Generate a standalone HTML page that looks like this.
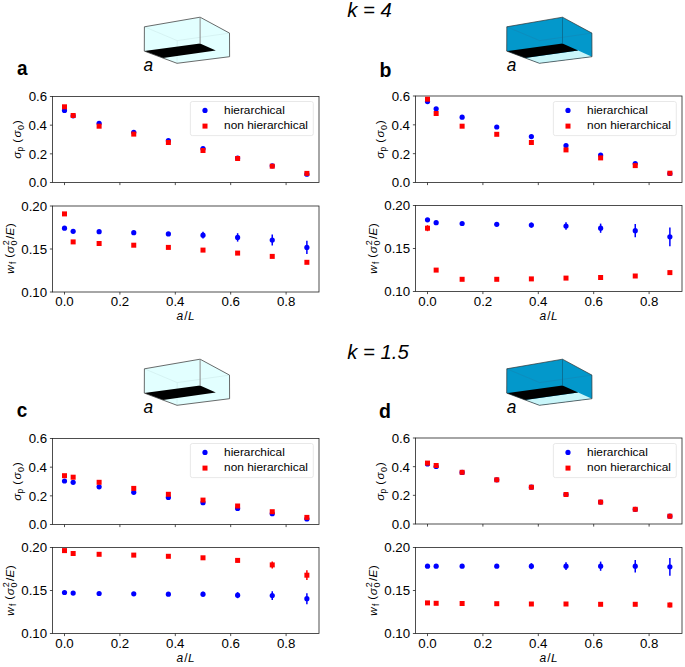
<!DOCTYPE html>
<html><head><meta charset="utf-8"><style>
html,body{margin:0;padding:0;background:#fff;}
svg{display:block;font-family:"Liberation Sans", sans-serif;}
text{font-kerning:none;}
</style></head><body>
<svg width="685" height="667" viewBox="0 0 685 667">
<rect width="685" height="667" fill="#fff"/>
<polygon points="144.40,26.80 200.10,17.20 229.50,33.10 229.60,56.70 177.00,63.30 144.30,51.10" fill="#e2ffff"/>
<polyline points="144.40,26.80 177.20,40.60 229.50,33.10" fill="none" stroke="#cdeaea" stroke-width="0.6"/>
<line x1="177.2" y1="40.6" x2="177.0" y2="63.3" stroke="#cdeaea" stroke-width="0.6"/>
<polygon points="144.30,51.10 200.10,43.50 215.80,50.50 163.00,58.00" fill="#000"/>
<polygon points="144.40,26.80 200.10,17.20 229.50,33.10 229.60,56.70 177.00,63.30 144.30,51.10" fill="none" stroke="#3a3a3a" stroke-width="0.75" stroke-linejoin="round"/>
<line x1="200.1" y1="17.2" x2="200.1" y2="43.5" stroke="#8a8a8a" stroke-width="1.0"/>
<text transform="translate(143.61,70.83) scale(0.9000,1)" font-size="19.2" font-weight="normal" font-style="italic" fill="#000" >a</text>
<text transform="translate(17.05,75.39) scale(0.9000,1)" font-size="21" font-weight="bold" font-style="normal" fill="#000" >a</text>
<line x1="49.90" y1="182.50" x2="52.50" y2="182.50" stroke="#222" stroke-width="0.8"/>
<text transform="translate(28.65,187.33) scale(1.0800,1)" font-size="12.3" font-weight="normal" font-style="normal" fill="#000" >0.0</text>
<line x1="49.90" y1="153.83" x2="52.50" y2="153.83" stroke="#222" stroke-width="0.8"/>
<text transform="translate(28.80,158.67) scale(1.0800,1)" font-size="12.3" font-weight="normal" font-style="normal" fill="#000" >0.2</text>
<line x1="49.90" y1="125.17" x2="52.50" y2="125.17" stroke="#222" stroke-width="0.8"/>
<text transform="translate(28.52,130.00) scale(1.0800,1)" font-size="12.3" font-weight="normal" font-style="normal" fill="#000" >0.4</text>
<line x1="49.90" y1="96.50" x2="52.50" y2="96.50" stroke="#222" stroke-width="0.8"/>
<text transform="translate(28.72,101.33) scale(1.0800,1)" font-size="12.3" font-weight="normal" font-style="normal" fill="#000" >0.6</text>
<line x1="64.50" y1="182.50" x2="64.50" y2="185.10" stroke="#222" stroke-width="0.8"/>
<line x1="119.90" y1="182.50" x2="119.90" y2="185.10" stroke="#222" stroke-width="0.8"/>
<line x1="175.30" y1="182.50" x2="175.30" y2="185.10" stroke="#222" stroke-width="0.8"/>
<line x1="230.70" y1="182.50" x2="230.70" y2="185.10" stroke="#222" stroke-width="0.8"/>
<line x1="286.10" y1="182.50" x2="286.10" y2="185.10" stroke="#222" stroke-width="0.8"/>
<rect x="52.50" y="96.50" width="266.50" height="86.00" fill="none" stroke="#222" stroke-width="0.8"/>
<line x1="49.90" y1="292.00" x2="52.50" y2="292.00" stroke="#222" stroke-width="0.8"/>
<text transform="translate(21.26,296.83) scale(1.0800,1)" font-size="12.3" font-weight="normal" font-style="normal" fill="#000" >0.10</text>
<line x1="49.90" y1="249.00" x2="52.50" y2="249.00" stroke="#222" stroke-width="0.8"/>
<text transform="translate(21.30,253.83) scale(1.0800,1)" font-size="12.3" font-weight="normal" font-style="normal" fill="#000" >0.15</text>
<line x1="49.90" y1="206.00" x2="52.50" y2="206.00" stroke="#222" stroke-width="0.8"/>
<text transform="translate(21.26,210.83) scale(1.0800,1)" font-size="12.3" font-weight="normal" font-style="normal" fill="#000" >0.20</text>
<line x1="64.50" y1="292.00" x2="64.50" y2="294.60" stroke="#222" stroke-width="0.8"/>
<text transform="translate(55.27,306.29) scale(1.0800,1)" font-size="12.3" font-weight="normal" font-style="normal" fill="#000" >0.0</text>
<line x1="119.90" y1="292.00" x2="119.90" y2="294.60" stroke="#222" stroke-width="0.8"/>
<text transform="translate(110.74,306.29) scale(1.0800,1)" font-size="12.3" font-weight="normal" font-style="normal" fill="#000" >0.2</text>
<line x1="175.30" y1="292.00" x2="175.30" y2="294.60" stroke="#222" stroke-width="0.8"/>
<text transform="translate(166.00,306.29) scale(1.0800,1)" font-size="12.3" font-weight="normal" font-style="normal" fill="#000" >0.4</text>
<line x1="230.70" y1="292.00" x2="230.70" y2="294.60" stroke="#222" stroke-width="0.8"/>
<text transform="translate(221.50,306.29) scale(1.0800,1)" font-size="12.3" font-weight="normal" font-style="normal" fill="#000" >0.6</text>
<line x1="286.10" y1="292.00" x2="286.10" y2="294.60" stroke="#222" stroke-width="0.8"/>
<text transform="translate(276.90,306.29) scale(1.0800,1)" font-size="12.3" font-weight="normal" font-style="normal" fill="#000" >0.8</text>
<rect x="52.50" y="206.00" width="266.50" height="86.00" fill="none" stroke="#222" stroke-width="0.8"/>
<circle cx="64.50" cy="110.40" r="2.6" fill="#00f"/>
<circle cx="73.16" cy="115.80" r="2.6" fill="#00f"/>
<circle cx="99.12" cy="123.30" r="2.6" fill="#00f"/>
<circle cx="133.75" cy="132.30" r="2.6" fill="#00f"/>
<circle cx="168.38" cy="140.70" r="2.6" fill="#00f"/>
<circle cx="203.00" cy="148.70" r="2.6" fill="#00f"/>
<circle cx="237.62" cy="158.00" r="2.6" fill="#00f"/>
<circle cx="272.25" cy="165.80" r="2.6" fill="#00f"/>
<circle cx="306.88" cy="174.20" r="2.6" fill="#00f"/>
<rect x="62.00" y="104.30" width="5.0" height="5.0" fill="#f00"/>
<rect x="70.66" y="113.00" width="5.0" height="5.0" fill="#f00"/>
<rect x="96.62" y="123.70" width="5.0" height="5.0" fill="#f00"/>
<rect x="131.25" y="131.60" width="5.0" height="5.0" fill="#f00"/>
<rect x="165.88" y="140.00" width="5.0" height="5.0" fill="#f00"/>
<rect x="200.50" y="148.00" width="5.0" height="5.0" fill="#f00"/>
<rect x="235.12" y="156.00" width="5.0" height="5.0" fill="#f00"/>
<rect x="269.75" y="163.70" width="5.0" height="5.0" fill="#f00"/>
<rect x="304.38" y="170.90" width="5.0" height="5.0" fill="#f00"/>
<circle cx="64.50" cy="228.20" r="2.6" fill="#00f"/>
<circle cx="73.16" cy="231.30" r="2.6" fill="#00f"/>
<circle cx="99.12" cy="231.70" r="2.6" fill="#00f"/>
<circle cx="133.75" cy="232.70" r="2.6" fill="#00f"/>
<circle cx="168.38" cy="233.90" r="2.6" fill="#00f"/>
<line x1="203.00" y1="231.80" x2="203.00" y2="238.60" stroke="#00f" stroke-width="1.5"/>
<circle cx="203.00" cy="235.20" r="2.6" fill="#00f"/>
<line x1="237.62" y1="233.20" x2="237.62" y2="241.60" stroke="#00f" stroke-width="1.5"/>
<circle cx="237.62" cy="237.40" r="2.6" fill="#00f"/>
<line x1="272.25" y1="234.60" x2="272.25" y2="245.60" stroke="#00f" stroke-width="1.5"/>
<circle cx="272.25" cy="240.10" r="2.6" fill="#00f"/>
<line x1="306.88" y1="240.80" x2="306.88" y2="254.00" stroke="#00f" stroke-width="1.5"/>
<circle cx="306.88" cy="247.40" r="2.6" fill="#00f"/>
<rect x="62.00" y="211.40" width="5.0" height="5.0" fill="#f00"/>
<rect x="70.66" y="239.40" width="5.0" height="5.0" fill="#f00"/>
<line x1="99.12" y1="241.70" x2="99.12" y2="245.30" stroke="#f00" stroke-width="1.5"/>
<rect x="96.62" y="241.00" width="5.0" height="5.0" fill="#f00"/>
<line x1="133.75" y1="243.40" x2="133.75" y2="247.00" stroke="#f00" stroke-width="1.5"/>
<rect x="131.25" y="242.70" width="5.0" height="5.0" fill="#f00"/>
<rect x="165.88" y="244.90" width="5.0" height="5.0" fill="#f00"/>
<rect x="200.50" y="247.60" width="5.0" height="5.0" fill="#f00"/>
<rect x="235.12" y="250.60" width="5.0" height="5.0" fill="#f00"/>
<rect x="269.75" y="253.90" width="5.0" height="5.0" fill="#f00"/>
<rect x="304.38" y="259.80" width="5.0" height="5.0" fill="#f00"/>
<rect x="190.40" y="101.50" width="122.90" height="34.10" rx="2" fill="#fff" fill-opacity="0.8" stroke="#e2e2e2" stroke-width="0.8"/>
<circle cx="205.00" cy="110.40" r="2.6" fill="#00f"/>
<rect x="202.50" y="123.60" width="5.0" height="5.0" fill="#f00"/>
<text transform="translate(224.08,114.13) scale(1.1000,1)" font-size="10.8" font-weight="normal" font-style="normal" fill="#000" >hierarchical</text>
<text transform="translate(224.11,129.33) scale(1.1000,1)" font-size="10.8" font-weight="normal" font-style="normal" fill="#000" >non hierarchical</text>
<text transform="translate(21.48,158.65) rotate(-90) scale(1.000,1)" font-size="11.7" font-style="italic" font-weight="normal">σ</text>
<text transform="translate(23.29,151.48) rotate(-90) scale(1.000,1)" font-size="8.4" font-style="normal" font-weight="normal">p</text>
<text transform="translate(20.53,142.63) rotate(-90) scale(1.000,1)" font-size="11.7" font-style="normal" font-weight="normal">(</text>
<text transform="translate(21.18,137.45) rotate(-90) scale(1.000,1)" font-size="11.7" font-style="italic" font-weight="normal">σ</text>
<text transform="translate(23.55,129.95) rotate(-90) scale(1.000,1)" font-size="9.0" font-style="normal" font-weight="normal">0</text>
<text transform="translate(20.63,124.22) rotate(-90) scale(1.000,1)" font-size="11.7" font-style="normal" font-weight="normal">)</text>
<text transform="translate(13.79,273.78) rotate(-90) scale(1.000,1)" font-size="11.7" font-style="italic" font-weight="normal">w</text>
<text transform="translate(15.94,264.03) rotate(-90) scale(1.000,1)" font-size="8.4" font-style="normal" font-weight="normal">f</text>
<text transform="translate(13.38,257.63) rotate(-90) scale(1.000,1)" font-size="11.7" font-style="normal" font-weight="normal">(</text>
<text transform="translate(13.83,253.20) rotate(-90) scale(1.000,1)" font-size="11.7" font-style="italic" font-weight="normal">σ</text>
<text transform="translate(9.49,245.30) rotate(-90) scale(1.000,1)" font-size="9.0" font-style="normal" font-weight="normal">2</text>
<text transform="translate(17.35,245.50) rotate(-90) scale(1.000,1)" font-size="9.0" font-style="normal" font-weight="normal">0</text>
<text transform="translate(14.28,238.93) rotate(-90) scale(1.000,1)" font-size="11.7" font-style="normal" font-weight="normal">/</text>
<text transform="translate(13.72,235.49) rotate(-90) scale(1.000,1)" font-size="11.7" font-style="italic" font-weight="normal">E</text>
<text transform="translate(13.53,227.37) rotate(-90) scale(1.000,1)" font-size="11.7" font-style="normal" font-weight="normal">)</text>
<text transform="translate(176.48,319.87) scale(1.000,1)" font-size="12.0" font-style="italic" font-weight="normal">a</text>
<text transform="translate(184.18,320.49) scale(1.000,1)" font-size="12.0" font-style="normal" font-weight="normal">/</text>
<text transform="translate(188.10,319.91) scale(1.000,1)" font-size="11.8" font-style="italic" font-weight="normal">L</text>
<polygon points="506.80,26.80 562.50,17.20 591.90,33.10 592.00,56.70 539.40,63.30 506.70,51.10" fill="#0398cb"/>
<polygon points="525.10,57.90 578.20,50.50 592.00,56.70 539.40,63.30" fill="#c9f6fa"/>
<polyline points="506.80,26.80 539.60,40.60 591.90,33.10" fill="none" stroke="#1286b6" stroke-width="0.6"/>
<polygon points="506.70,51.10 562.50,43.50 578.20,50.50 525.10,57.90" fill="#000"/>
<polygon points="506.80,26.80 562.50,17.20 591.90,33.10 592.00,56.70 539.40,63.30 506.70,51.10" fill="none" stroke="#333" stroke-width="0.7" stroke-linejoin="round"/>
<line x1="562.5" y1="17.2" x2="562.5" y2="43.5" stroke="#0d5f80" stroke-width="0.7"/>
<text transform="translate(506.81,70.83) scale(0.9000,1)" font-size="19.2" font-weight="normal" font-style="italic" fill="#000" >a</text>
<text transform="translate(379.61,76.61) scale(1.0000,1)" font-size="19.5" font-weight="bold" font-style="normal" fill="#000" >b</text>
<line x1="412.90" y1="182.50" x2="415.50" y2="182.50" stroke="#222" stroke-width="0.8"/>
<text transform="translate(391.65,187.33) scale(1.0800,1)" font-size="12.3" font-weight="normal" font-style="normal" fill="#000" >0.0</text>
<line x1="412.90" y1="153.67" x2="415.50" y2="153.67" stroke="#222" stroke-width="0.8"/>
<text transform="translate(391.80,158.50) scale(1.0800,1)" font-size="12.3" font-weight="normal" font-style="normal" fill="#000" >0.2</text>
<line x1="412.90" y1="124.83" x2="415.50" y2="124.83" stroke="#222" stroke-width="0.8"/>
<text transform="translate(391.52,129.67) scale(1.0800,1)" font-size="12.3" font-weight="normal" font-style="normal" fill="#000" >0.4</text>
<line x1="412.90" y1="96.00" x2="415.50" y2="96.00" stroke="#222" stroke-width="0.8"/>
<text transform="translate(391.72,100.83) scale(1.0800,1)" font-size="12.3" font-weight="normal" font-style="normal" fill="#000" >0.6</text>
<line x1="427.50" y1="182.50" x2="427.50" y2="185.10" stroke="#222" stroke-width="0.8"/>
<line x1="482.90" y1="182.50" x2="482.90" y2="185.10" stroke="#222" stroke-width="0.8"/>
<line x1="538.30" y1="182.50" x2="538.30" y2="185.10" stroke="#222" stroke-width="0.8"/>
<line x1="593.70" y1="182.50" x2="593.70" y2="185.10" stroke="#222" stroke-width="0.8"/>
<line x1="649.10" y1="182.50" x2="649.10" y2="185.10" stroke="#222" stroke-width="0.8"/>
<rect x="415.50" y="96.00" width="266.50" height="86.50" fill="none" stroke="#222" stroke-width="0.8"/>
<line x1="412.90" y1="291.50" x2="415.50" y2="291.50" stroke="#222" stroke-width="0.8"/>
<text transform="translate(384.26,296.33) scale(1.0800,1)" font-size="12.3" font-weight="normal" font-style="normal" fill="#000" >0.10</text>
<line x1="412.90" y1="248.50" x2="415.50" y2="248.50" stroke="#222" stroke-width="0.8"/>
<text transform="translate(384.30,253.33) scale(1.0800,1)" font-size="12.3" font-weight="normal" font-style="normal" fill="#000" >0.15</text>
<line x1="412.90" y1="205.50" x2="415.50" y2="205.50" stroke="#222" stroke-width="0.8"/>
<text transform="translate(384.26,210.33) scale(1.0800,1)" font-size="12.3" font-weight="normal" font-style="normal" fill="#000" >0.20</text>
<line x1="427.50" y1="291.50" x2="427.50" y2="294.10" stroke="#222" stroke-width="0.8"/>
<text transform="translate(418.27,305.79) scale(1.0800,1)" font-size="12.3" font-weight="normal" font-style="normal" fill="#000" >0.0</text>
<line x1="482.90" y1="291.50" x2="482.90" y2="294.10" stroke="#222" stroke-width="0.8"/>
<text transform="translate(473.74,305.79) scale(1.0800,1)" font-size="12.3" font-weight="normal" font-style="normal" fill="#000" >0.2</text>
<line x1="538.30" y1="291.50" x2="538.30" y2="294.10" stroke="#222" stroke-width="0.8"/>
<text transform="translate(529.00,305.79) scale(1.0800,1)" font-size="12.3" font-weight="normal" font-style="normal" fill="#000" >0.4</text>
<line x1="593.70" y1="291.50" x2="593.70" y2="294.10" stroke="#222" stroke-width="0.8"/>
<text transform="translate(584.50,305.79) scale(1.0800,1)" font-size="12.3" font-weight="normal" font-style="normal" fill="#000" >0.6</text>
<line x1="649.10" y1="291.50" x2="649.10" y2="294.10" stroke="#222" stroke-width="0.8"/>
<text transform="translate(639.90,305.79) scale(1.0800,1)" font-size="12.3" font-weight="normal" font-style="normal" fill="#000" >0.8</text>
<rect x="415.50" y="205.50" width="266.50" height="86.00" fill="none" stroke="#222" stroke-width="0.8"/>
<circle cx="427.50" cy="101.60" r="2.6" fill="#00f"/>
<circle cx="436.16" cy="108.80" r="2.6" fill="#00f"/>
<circle cx="462.12" cy="117.20" r="2.6" fill="#00f"/>
<circle cx="496.75" cy="127.00" r="2.6" fill="#00f"/>
<circle cx="531.38" cy="136.60" r="2.6" fill="#00f"/>
<circle cx="566.00" cy="145.60" r="2.6" fill="#00f"/>
<circle cx="600.62" cy="155.00" r="2.6" fill="#00f"/>
<circle cx="635.25" cy="163.60" r="2.6" fill="#00f"/>
<circle cx="669.88" cy="173.50" r="2.6" fill="#00f"/>
<rect x="425.00" y="96.70" width="5.0" height="5.0" fill="#f00"/>
<rect x="433.66" y="111.00" width="5.0" height="5.0" fill="#f00"/>
<rect x="459.62" y="123.70" width="5.0" height="5.0" fill="#f00"/>
<rect x="494.25" y="131.80" width="5.0" height="5.0" fill="#f00"/>
<rect x="528.88" y="140.00" width="5.0" height="5.0" fill="#f00"/>
<rect x="563.50" y="147.40" width="5.0" height="5.0" fill="#f00"/>
<rect x="598.12" y="155.40" width="5.0" height="5.0" fill="#f00"/>
<rect x="632.75" y="163.10" width="5.0" height="5.0" fill="#f00"/>
<rect x="667.38" y="170.70" width="5.0" height="5.0" fill="#f00"/>
<circle cx="427.50" cy="219.80" r="2.6" fill="#00f"/>
<circle cx="436.16" cy="222.70" r="2.6" fill="#00f"/>
<circle cx="462.12" cy="223.50" r="2.6" fill="#00f"/>
<circle cx="496.75" cy="224.30" r="2.6" fill="#00f"/>
<line x1="531.38" y1="222.60" x2="531.38" y2="227.60" stroke="#00f" stroke-width="1.5"/>
<circle cx="531.38" cy="225.10" r="2.6" fill="#00f"/>
<line x1="566.00" y1="222.15" x2="566.00" y2="229.85" stroke="#00f" stroke-width="1.5"/>
<circle cx="566.00" cy="226.00" r="2.6" fill="#00f"/>
<line x1="600.62" y1="223.60" x2="600.62" y2="232.80" stroke="#00f" stroke-width="1.5"/>
<circle cx="600.62" cy="228.20" r="2.6" fill="#00f"/>
<line x1="635.25" y1="224.05" x2="635.25" y2="237.35" stroke="#00f" stroke-width="1.5"/>
<circle cx="635.25" cy="230.70" r="2.6" fill="#00f"/>
<line x1="669.88" y1="227.40" x2="669.88" y2="246.20" stroke="#00f" stroke-width="1.5"/>
<circle cx="669.88" cy="236.80" r="2.6" fill="#00f"/>
<line x1="427.50" y1="225.20" x2="427.50" y2="231.20" stroke="#f00" stroke-width="1.5"/>
<rect x="425.00" y="225.70" width="5.0" height="5.0" fill="#f00"/>
<rect x="433.66" y="267.60" width="5.0" height="5.0" fill="#f00"/>
<rect x="459.62" y="276.80" width="5.0" height="5.0" fill="#f00"/>
<rect x="494.25" y="276.80" width="5.0" height="5.0" fill="#f00"/>
<rect x="528.88" y="276.40" width="5.0" height="5.0" fill="#f00"/>
<rect x="563.50" y="275.60" width="5.0" height="5.0" fill="#f00"/>
<rect x="598.12" y="275.00" width="5.0" height="5.0" fill="#f00"/>
<rect x="632.75" y="273.50" width="5.0" height="5.0" fill="#f00"/>
<rect x="667.38" y="270.10" width="5.0" height="5.0" fill="#f00"/>
<rect x="553.40" y="101.50" width="122.90" height="34.10" rx="2" fill="#fff" fill-opacity="0.8" stroke="#e2e2e2" stroke-width="0.8"/>
<circle cx="568.00" cy="110.40" r="2.6" fill="#00f"/>
<rect x="565.50" y="123.60" width="5.0" height="5.0" fill="#f00"/>
<text transform="translate(587.08,114.13) scale(1.1000,1)" font-size="10.8" font-weight="normal" font-style="normal" fill="#000" >hierarchical</text>
<text transform="translate(587.11,129.33) scale(1.1000,1)" font-size="10.8" font-weight="normal" font-style="normal" fill="#000" >non hierarchical</text>
<text transform="translate(384.48,158.65) rotate(-90) scale(1.000,1)" font-size="11.7" font-style="italic" font-weight="normal">σ</text>
<text transform="translate(386.29,151.48) rotate(-90) scale(1.000,1)" font-size="8.4" font-style="normal" font-weight="normal">p</text>
<text transform="translate(383.53,142.63) rotate(-90) scale(1.000,1)" font-size="11.7" font-style="normal" font-weight="normal">(</text>
<text transform="translate(384.18,137.45) rotate(-90) scale(1.000,1)" font-size="11.7" font-style="italic" font-weight="normal">σ</text>
<text transform="translate(386.55,129.95) rotate(-90) scale(1.000,1)" font-size="9.0" font-style="normal" font-weight="normal">0</text>
<text transform="translate(383.63,124.22) rotate(-90) scale(1.000,1)" font-size="11.7" font-style="normal" font-weight="normal">)</text>
<text transform="translate(376.79,273.78) rotate(-90) scale(1.000,1)" font-size="11.7" font-style="italic" font-weight="normal">w</text>
<text transform="translate(378.94,264.03) rotate(-90) scale(1.000,1)" font-size="8.4" font-style="normal" font-weight="normal">f</text>
<text transform="translate(376.38,257.63) rotate(-90) scale(1.000,1)" font-size="11.7" font-style="normal" font-weight="normal">(</text>
<text transform="translate(376.83,253.20) rotate(-90) scale(1.000,1)" font-size="11.7" font-style="italic" font-weight="normal">σ</text>
<text transform="translate(372.49,245.30) rotate(-90) scale(1.000,1)" font-size="9.0" font-style="normal" font-weight="normal">2</text>
<text transform="translate(380.35,245.50) rotate(-90) scale(1.000,1)" font-size="9.0" font-style="normal" font-weight="normal">0</text>
<text transform="translate(377.28,238.93) rotate(-90) scale(1.000,1)" font-size="11.7" font-style="normal" font-weight="normal">/</text>
<text transform="translate(376.72,235.49) rotate(-90) scale(1.000,1)" font-size="11.7" font-style="italic" font-weight="normal">E</text>
<text transform="translate(376.53,227.37) rotate(-90) scale(1.000,1)" font-size="11.7" font-style="normal" font-weight="normal">)</text>
<text transform="translate(539.48,319.87) scale(1.000,1)" font-size="12.0" font-style="italic" font-weight="normal">a</text>
<text transform="translate(547.18,320.49) scale(1.000,1)" font-size="12.0" font-style="normal" font-weight="normal">/</text>
<text transform="translate(551.10,319.91) scale(1.000,1)" font-size="11.8" font-style="italic" font-weight="normal">L</text>
<polygon points="144.40,368.80 200.10,359.20 229.50,375.10 229.60,398.70 177.00,405.30 144.30,393.10" fill="#e2ffff"/>
<polyline points="144.40,368.80 177.20,382.60 229.50,375.10" fill="none" stroke="#cdeaea" stroke-width="0.6"/>
<line x1="177.2" y1="382.6" x2="177.0" y2="405.3" stroke="#cdeaea" stroke-width="0.6"/>
<polygon points="144.30,393.10 200.10,385.50 215.80,392.50 163.00,400.00" fill="#000"/>
<polygon points="144.40,368.80 200.10,359.20 229.50,375.10 229.60,398.70 177.00,405.30 144.30,393.10" fill="none" stroke="#3a3a3a" stroke-width="0.75" stroke-linejoin="round"/>
<line x1="200.1" y1="359.2" x2="200.1" y2="385.5" stroke="#8a8a8a" stroke-width="1.0"/>
<text transform="translate(143.61,412.83) scale(0.9000,1)" font-size="19.2" font-weight="normal" font-style="italic" fill="#000" >a</text>
<text transform="translate(16.66,417.39) scale(0.9000,1)" font-size="21" font-weight="bold" font-style="normal" fill="#000" >c</text>
<line x1="49.90" y1="524.50" x2="52.50" y2="524.50" stroke="#222" stroke-width="0.8"/>
<text transform="translate(28.65,529.33) scale(1.0800,1)" font-size="12.3" font-weight="normal" font-style="normal" fill="#000" >0.0</text>
<line x1="49.90" y1="495.83" x2="52.50" y2="495.83" stroke="#222" stroke-width="0.8"/>
<text transform="translate(28.80,500.67) scale(1.0800,1)" font-size="12.3" font-weight="normal" font-style="normal" fill="#000" >0.2</text>
<line x1="49.90" y1="467.17" x2="52.50" y2="467.17" stroke="#222" stroke-width="0.8"/>
<text transform="translate(28.52,472.00) scale(1.0800,1)" font-size="12.3" font-weight="normal" font-style="normal" fill="#000" >0.4</text>
<line x1="49.90" y1="438.50" x2="52.50" y2="438.50" stroke="#222" stroke-width="0.8"/>
<text transform="translate(28.72,443.33) scale(1.0800,1)" font-size="12.3" font-weight="normal" font-style="normal" fill="#000" >0.6</text>
<line x1="64.50" y1="524.50" x2="64.50" y2="527.10" stroke="#222" stroke-width="0.8"/>
<line x1="119.90" y1="524.50" x2="119.90" y2="527.10" stroke="#222" stroke-width="0.8"/>
<line x1="175.30" y1="524.50" x2="175.30" y2="527.10" stroke="#222" stroke-width="0.8"/>
<line x1="230.70" y1="524.50" x2="230.70" y2="527.10" stroke="#222" stroke-width="0.8"/>
<line x1="286.10" y1="524.50" x2="286.10" y2="527.10" stroke="#222" stroke-width="0.8"/>
<rect x="52.50" y="438.50" width="266.50" height="86.00" fill="none" stroke="#222" stroke-width="0.8"/>
<line x1="49.90" y1="633.50" x2="52.50" y2="633.50" stroke="#222" stroke-width="0.8"/>
<text transform="translate(21.26,638.33) scale(1.0800,1)" font-size="12.3" font-weight="normal" font-style="normal" fill="#000" >0.10</text>
<line x1="49.90" y1="590.50" x2="52.50" y2="590.50" stroke="#222" stroke-width="0.8"/>
<text transform="translate(21.30,595.33) scale(1.0800,1)" font-size="12.3" font-weight="normal" font-style="normal" fill="#000" >0.15</text>
<line x1="49.90" y1="547.50" x2="52.50" y2="547.50" stroke="#222" stroke-width="0.8"/>
<text transform="translate(21.26,552.33) scale(1.0800,1)" font-size="12.3" font-weight="normal" font-style="normal" fill="#000" >0.20</text>
<line x1="64.50" y1="633.50" x2="64.50" y2="636.10" stroke="#222" stroke-width="0.8"/>
<text transform="translate(55.27,647.79) scale(1.0800,1)" font-size="12.3" font-weight="normal" font-style="normal" fill="#000" >0.0</text>
<line x1="119.90" y1="633.50" x2="119.90" y2="636.10" stroke="#222" stroke-width="0.8"/>
<text transform="translate(110.74,647.79) scale(1.0800,1)" font-size="12.3" font-weight="normal" font-style="normal" fill="#000" >0.2</text>
<line x1="175.30" y1="633.50" x2="175.30" y2="636.10" stroke="#222" stroke-width="0.8"/>
<text transform="translate(166.00,647.79) scale(1.0800,1)" font-size="12.3" font-weight="normal" font-style="normal" fill="#000" >0.4</text>
<line x1="230.70" y1="633.50" x2="230.70" y2="636.10" stroke="#222" stroke-width="0.8"/>
<text transform="translate(221.50,647.79) scale(1.0800,1)" font-size="12.3" font-weight="normal" font-style="normal" fill="#000" >0.6</text>
<line x1="286.10" y1="633.50" x2="286.10" y2="636.10" stroke="#222" stroke-width="0.8"/>
<text transform="translate(276.90,647.79) scale(1.0800,1)" font-size="12.3" font-weight="normal" font-style="normal" fill="#000" >0.8</text>
<rect x="52.50" y="547.50" width="266.50" height="86.00" fill="none" stroke="#222" stroke-width="0.8"/>
<circle cx="64.50" cy="481.00" r="2.6" fill="#00f"/>
<circle cx="73.16" cy="482.30" r="2.6" fill="#00f"/>
<circle cx="99.12" cy="486.80" r="2.6" fill="#00f"/>
<circle cx="133.75" cy="492.30" r="2.6" fill="#00f"/>
<circle cx="168.38" cy="497.40" r="2.6" fill="#00f"/>
<circle cx="203.00" cy="502.70" r="2.6" fill="#00f"/>
<circle cx="237.62" cy="508.40" r="2.6" fill="#00f"/>
<circle cx="272.25" cy="513.70" r="2.6" fill="#00f"/>
<circle cx="306.88" cy="518.90" r="2.6" fill="#00f"/>
<rect x="62.00" y="473.20" width="5.0" height="5.0" fill="#f00"/>
<rect x="70.66" y="474.70" width="5.0" height="5.0" fill="#f00"/>
<rect x="96.62" y="479.80" width="5.0" height="5.0" fill="#f00"/>
<rect x="131.25" y="485.90" width="5.0" height="5.0" fill="#f00"/>
<rect x="165.88" y="491.80" width="5.0" height="5.0" fill="#f00"/>
<rect x="200.50" y="497.60" width="5.0" height="5.0" fill="#f00"/>
<rect x="235.12" y="503.50" width="5.0" height="5.0" fill="#f00"/>
<rect x="269.75" y="509.20" width="5.0" height="5.0" fill="#f00"/>
<rect x="304.38" y="514.90" width="5.0" height="5.0" fill="#f00"/>
<circle cx="64.50" cy="592.50" r="2.6" fill="#00f"/>
<circle cx="73.16" cy="593.10" r="2.6" fill="#00f"/>
<circle cx="99.12" cy="593.50" r="2.6" fill="#00f"/>
<circle cx="133.75" cy="593.80" r="2.6" fill="#00f"/>
<circle cx="168.38" cy="594.20" r="2.6" fill="#00f"/>
<line x1="203.00" y1="591.70" x2="203.00" y2="596.70" stroke="#00f" stroke-width="1.5"/>
<circle cx="203.00" cy="594.20" r="2.6" fill="#00f"/>
<line x1="237.62" y1="592.20" x2="237.62" y2="598.20" stroke="#00f" stroke-width="1.5"/>
<circle cx="237.62" cy="595.20" r="2.6" fill="#00f"/>
<line x1="272.25" y1="591.20" x2="272.25" y2="600.00" stroke="#00f" stroke-width="1.5"/>
<circle cx="272.25" cy="595.60" r="2.6" fill="#00f"/>
<line x1="306.88" y1="593.25" x2="306.88" y2="604.15" stroke="#00f" stroke-width="1.5"/>
<circle cx="306.88" cy="598.70" r="2.6" fill="#00f"/>
<rect x="62.00" y="548.10" width="5.0" height="5.0" fill="#f00"/>
<rect x="70.66" y="551.00" width="5.0" height="5.0" fill="#f00"/>
<rect x="96.62" y="551.80" width="5.0" height="5.0" fill="#f00"/>
<rect x="131.25" y="552.60" width="5.0" height="5.0" fill="#f00"/>
<rect x="165.88" y="553.80" width="5.0" height="5.0" fill="#f00"/>
<rect x="200.50" y="555.30" width="5.0" height="5.0" fill="#f00"/>
<line x1="237.62" y1="558.40" x2="237.62" y2="562.40" stroke="#f00" stroke-width="1.5"/>
<rect x="235.12" y="557.90" width="5.0" height="5.0" fill="#f00"/>
<line x1="272.25" y1="561.40" x2="272.25" y2="568.40" stroke="#f00" stroke-width="1.5"/>
<rect x="269.75" y="562.40" width="5.0" height="5.0" fill="#f00"/>
<line x1="306.88" y1="570.35" x2="306.88" y2="580.05" stroke="#f00" stroke-width="1.5"/>
<rect x="304.38" y="572.70" width="5.0" height="5.0" fill="#f00"/>
<rect x="190.40" y="443.50" width="122.90" height="34.10" rx="2" fill="#fff" fill-opacity="0.8" stroke="#e2e2e2" stroke-width="0.8"/>
<circle cx="205.00" cy="452.40" r="2.6" fill="#00f"/>
<rect x="202.50" y="465.60" width="5.0" height="5.0" fill="#f00"/>
<text transform="translate(224.08,456.13) scale(1.1000,1)" font-size="10.8" font-weight="normal" font-style="normal" fill="#000" >hierarchical</text>
<text transform="translate(224.11,471.33) scale(1.1000,1)" font-size="10.8" font-weight="normal" font-style="normal" fill="#000" >non hierarchical</text>
<text transform="translate(21.48,500.65) rotate(-90) scale(1.000,1)" font-size="11.7" font-style="italic" font-weight="normal">σ</text>
<text transform="translate(23.29,493.48) rotate(-90) scale(1.000,1)" font-size="8.4" font-style="normal" font-weight="normal">p</text>
<text transform="translate(20.53,484.63) rotate(-90) scale(1.000,1)" font-size="11.7" font-style="normal" font-weight="normal">(</text>
<text transform="translate(21.18,479.45) rotate(-90) scale(1.000,1)" font-size="11.7" font-style="italic" font-weight="normal">σ</text>
<text transform="translate(23.55,471.95) rotate(-90) scale(1.000,1)" font-size="9.0" font-style="normal" font-weight="normal">0</text>
<text transform="translate(20.63,466.22) rotate(-90) scale(1.000,1)" font-size="11.7" font-style="normal" font-weight="normal">)</text>
<text transform="translate(13.79,615.78) rotate(-90) scale(1.000,1)" font-size="11.7" font-style="italic" font-weight="normal">w</text>
<text transform="translate(15.94,606.03) rotate(-90) scale(1.000,1)" font-size="8.4" font-style="normal" font-weight="normal">f</text>
<text transform="translate(13.38,599.63) rotate(-90) scale(1.000,1)" font-size="11.7" font-style="normal" font-weight="normal">(</text>
<text transform="translate(13.83,595.20) rotate(-90) scale(1.000,1)" font-size="11.7" font-style="italic" font-weight="normal">σ</text>
<text transform="translate(9.49,587.30) rotate(-90) scale(1.000,1)" font-size="9.0" font-style="normal" font-weight="normal">2</text>
<text transform="translate(17.35,587.50) rotate(-90) scale(1.000,1)" font-size="9.0" font-style="normal" font-weight="normal">0</text>
<text transform="translate(14.28,580.93) rotate(-90) scale(1.000,1)" font-size="11.7" font-style="normal" font-weight="normal">/</text>
<text transform="translate(13.72,577.49) rotate(-90) scale(1.000,1)" font-size="11.7" font-style="italic" font-weight="normal">E</text>
<text transform="translate(13.53,569.37) rotate(-90) scale(1.000,1)" font-size="11.7" font-style="normal" font-weight="normal">)</text>
<text transform="translate(176.48,661.57) scale(1.000,1)" font-size="12.0" font-style="italic" font-weight="normal">a</text>
<text transform="translate(184.18,662.19) scale(1.000,1)" font-size="12.0" font-style="normal" font-weight="normal">/</text>
<text transform="translate(188.10,661.61) scale(1.000,1)" font-size="11.8" font-style="italic" font-weight="normal">L</text>
<polygon points="506.80,368.80 562.50,359.20 591.90,375.10 592.00,398.70 539.40,405.30 506.70,393.10" fill="#0398cb"/>
<polygon points="525.10,399.90 578.20,392.50 592.00,398.70 539.40,405.30" fill="#c9f6fa"/>
<polyline points="506.80,368.80 539.60,382.60 591.90,375.10" fill="none" stroke="#1286b6" stroke-width="0.6"/>
<polygon points="506.70,393.10 562.50,385.50 578.20,392.50 525.10,399.90" fill="#000"/>
<polygon points="506.80,368.80 562.50,359.20 591.90,375.10 592.00,398.70 539.40,405.30 506.70,393.10" fill="none" stroke="#333" stroke-width="0.7" stroke-linejoin="round"/>
<line x1="562.5" y1="359.2" x2="562.5" y2="385.5" stroke="#0d5f80" stroke-width="0.7"/>
<text transform="translate(506.81,412.83) scale(0.9000,1)" font-size="19.2" font-weight="normal" font-style="italic" fill="#000" >a</text>
<text transform="translate(379.00,418.21) scale(1.0000,1)" font-size="19.5" font-weight="bold" font-style="normal" fill="#000" >d</text>
<line x1="412.90" y1="524.00" x2="415.50" y2="524.00" stroke="#222" stroke-width="0.8"/>
<text transform="translate(391.65,528.83) scale(1.0800,1)" font-size="12.3" font-weight="normal" font-style="normal" fill="#000" >0.0</text>
<line x1="412.90" y1="495.33" x2="415.50" y2="495.33" stroke="#222" stroke-width="0.8"/>
<text transform="translate(391.80,500.17) scale(1.0800,1)" font-size="12.3" font-weight="normal" font-style="normal" fill="#000" >0.2</text>
<line x1="412.90" y1="466.67" x2="415.50" y2="466.67" stroke="#222" stroke-width="0.8"/>
<text transform="translate(391.52,471.50) scale(1.0800,1)" font-size="12.3" font-weight="normal" font-style="normal" fill="#000" >0.4</text>
<line x1="412.90" y1="438.00" x2="415.50" y2="438.00" stroke="#222" stroke-width="0.8"/>
<text transform="translate(391.72,442.83) scale(1.0800,1)" font-size="12.3" font-weight="normal" font-style="normal" fill="#000" >0.6</text>
<line x1="427.50" y1="524.00" x2="427.50" y2="526.60" stroke="#222" stroke-width="0.8"/>
<line x1="482.90" y1="524.00" x2="482.90" y2="526.60" stroke="#222" stroke-width="0.8"/>
<line x1="538.30" y1="524.00" x2="538.30" y2="526.60" stroke="#222" stroke-width="0.8"/>
<line x1="593.70" y1="524.00" x2="593.70" y2="526.60" stroke="#222" stroke-width="0.8"/>
<line x1="649.10" y1="524.00" x2="649.10" y2="526.60" stroke="#222" stroke-width="0.8"/>
<rect x="415.50" y="438.00" width="266.50" height="86.00" fill="none" stroke="#222" stroke-width="0.8"/>
<line x1="412.90" y1="633.50" x2="415.50" y2="633.50" stroke="#222" stroke-width="0.8"/>
<text transform="translate(384.26,638.33) scale(1.0800,1)" font-size="12.3" font-weight="normal" font-style="normal" fill="#000" >0.10</text>
<line x1="412.90" y1="590.50" x2="415.50" y2="590.50" stroke="#222" stroke-width="0.8"/>
<text transform="translate(384.30,595.33) scale(1.0800,1)" font-size="12.3" font-weight="normal" font-style="normal" fill="#000" >0.15</text>
<line x1="412.90" y1="547.50" x2="415.50" y2="547.50" stroke="#222" stroke-width="0.8"/>
<text transform="translate(384.26,552.33) scale(1.0800,1)" font-size="12.3" font-weight="normal" font-style="normal" fill="#000" >0.20</text>
<line x1="427.50" y1="633.50" x2="427.50" y2="636.10" stroke="#222" stroke-width="0.8"/>
<text transform="translate(418.27,647.79) scale(1.0800,1)" font-size="12.3" font-weight="normal" font-style="normal" fill="#000" >0.0</text>
<line x1="482.90" y1="633.50" x2="482.90" y2="636.10" stroke="#222" stroke-width="0.8"/>
<text transform="translate(473.74,647.79) scale(1.0800,1)" font-size="12.3" font-weight="normal" font-style="normal" fill="#000" >0.2</text>
<line x1="538.30" y1="633.50" x2="538.30" y2="636.10" stroke="#222" stroke-width="0.8"/>
<text transform="translate(529.00,647.79) scale(1.0800,1)" font-size="12.3" font-weight="normal" font-style="normal" fill="#000" >0.4</text>
<line x1="593.70" y1="633.50" x2="593.70" y2="636.10" stroke="#222" stroke-width="0.8"/>
<text transform="translate(584.50,647.79) scale(1.0800,1)" font-size="12.3" font-weight="normal" font-style="normal" fill="#000" >0.6</text>
<line x1="649.10" y1="633.50" x2="649.10" y2="636.10" stroke="#222" stroke-width="0.8"/>
<text transform="translate(639.90,647.79) scale(1.0800,1)" font-size="12.3" font-weight="normal" font-style="normal" fill="#000" >0.8</text>
<rect x="415.50" y="547.50" width="266.50" height="86.00" fill="none" stroke="#222" stroke-width="0.8"/>
<circle cx="427.50" cy="464.00" r="2.6" fill="#00f"/>
<circle cx="436.16" cy="466.50" r="2.6" fill="#00f"/>
<circle cx="462.12" cy="472.40" r="2.6" fill="#00f"/>
<circle cx="496.75" cy="479.80" r="2.6" fill="#00f"/>
<circle cx="531.38" cy="487.20" r="2.6" fill="#00f"/>
<circle cx="566.00" cy="494.50" r="2.6" fill="#00f"/>
<circle cx="600.62" cy="502.10" r="2.6" fill="#00f"/>
<circle cx="635.25" cy="509.30" r="2.6" fill="#00f"/>
<circle cx="669.88" cy="516.20" r="2.6" fill="#00f"/>
<rect x="425.00" y="460.60" width="5.0" height="5.0" fill="#f00"/>
<rect x="433.66" y="463.00" width="5.0" height="5.0" fill="#f00"/>
<rect x="459.62" y="469.80" width="5.0" height="5.0" fill="#f00"/>
<rect x="494.25" y="477.30" width="5.0" height="5.0" fill="#f00"/>
<rect x="528.88" y="484.70" width="5.0" height="5.0" fill="#f00"/>
<rect x="563.50" y="492.00" width="5.0" height="5.0" fill="#f00"/>
<rect x="598.12" y="499.60" width="5.0" height="5.0" fill="#f00"/>
<rect x="632.75" y="506.80" width="5.0" height="5.0" fill="#f00"/>
<rect x="667.38" y="513.70" width="5.0" height="5.0" fill="#f00"/>
<circle cx="427.50" cy="566.20" r="2.6" fill="#00f"/>
<circle cx="436.16" cy="566.20" r="2.6" fill="#00f"/>
<circle cx="462.12" cy="566.20" r="2.6" fill="#00f"/>
<circle cx="496.75" cy="566.20" r="2.6" fill="#00f"/>
<line x1="531.38" y1="563.20" x2="531.38" y2="569.20" stroke="#00f" stroke-width="1.5"/>
<circle cx="531.38" cy="566.20" r="2.6" fill="#00f"/>
<line x1="566.00" y1="562.35" x2="566.00" y2="570.05" stroke="#00f" stroke-width="1.5"/>
<circle cx="566.00" cy="566.20" r="2.6" fill="#00f"/>
<line x1="600.62" y1="561.60" x2="600.62" y2="570.80" stroke="#00f" stroke-width="1.5"/>
<circle cx="600.62" cy="566.20" r="2.6" fill="#00f"/>
<line x1="635.25" y1="559.95" x2="635.25" y2="572.45" stroke="#00f" stroke-width="1.5"/>
<circle cx="635.25" cy="566.20" r="2.6" fill="#00f"/>
<line x1="669.88" y1="557.90" x2="669.88" y2="575.70" stroke="#00f" stroke-width="1.5"/>
<circle cx="669.88" cy="566.80" r="2.6" fill="#00f"/>
<rect x="425.00" y="600.40" width="5.0" height="5.0" fill="#f00"/>
<rect x="433.66" y="600.80" width="5.0" height="5.0" fill="#f00"/>
<rect x="459.62" y="601.00" width="5.0" height="5.0" fill="#f00"/>
<rect x="494.25" y="601.20" width="5.0" height="5.0" fill="#f00"/>
<rect x="528.88" y="601.50" width="5.0" height="5.0" fill="#f00"/>
<rect x="563.50" y="601.50" width="5.0" height="5.0" fill="#f00"/>
<rect x="598.12" y="601.80" width="5.0" height="5.0" fill="#f00"/>
<rect x="632.75" y="601.80" width="5.0" height="5.0" fill="#f00"/>
<line x1="669.88" y1="602.50" x2="669.88" y2="607.50" stroke="#f00" stroke-width="1.5"/>
<rect x="667.38" y="602.50" width="5.0" height="5.0" fill="#f00"/>
<rect x="553.40" y="443.50" width="122.90" height="34.10" rx="2" fill="#fff" fill-opacity="0.8" stroke="#e2e2e2" stroke-width="0.8"/>
<circle cx="568.00" cy="452.40" r="2.6" fill="#00f"/>
<rect x="565.50" y="465.60" width="5.0" height="5.0" fill="#f00"/>
<text transform="translate(587.08,456.13) scale(1.1000,1)" font-size="10.8" font-weight="normal" font-style="normal" fill="#000" >hierarchical</text>
<text transform="translate(587.11,471.33) scale(1.1000,1)" font-size="10.8" font-weight="normal" font-style="normal" fill="#000" >non hierarchical</text>
<text transform="translate(384.48,500.65) rotate(-90) scale(1.000,1)" font-size="11.7" font-style="italic" font-weight="normal">σ</text>
<text transform="translate(386.29,493.48) rotate(-90) scale(1.000,1)" font-size="8.4" font-style="normal" font-weight="normal">p</text>
<text transform="translate(383.53,484.63) rotate(-90) scale(1.000,1)" font-size="11.7" font-style="normal" font-weight="normal">(</text>
<text transform="translate(384.18,479.45) rotate(-90) scale(1.000,1)" font-size="11.7" font-style="italic" font-weight="normal">σ</text>
<text transform="translate(386.55,471.95) rotate(-90) scale(1.000,1)" font-size="9.0" font-style="normal" font-weight="normal">0</text>
<text transform="translate(383.63,466.22) rotate(-90) scale(1.000,1)" font-size="11.7" font-style="normal" font-weight="normal">)</text>
<text transform="translate(376.79,615.78) rotate(-90) scale(1.000,1)" font-size="11.7" font-style="italic" font-weight="normal">w</text>
<text transform="translate(378.94,606.03) rotate(-90) scale(1.000,1)" font-size="8.4" font-style="normal" font-weight="normal">f</text>
<text transform="translate(376.38,599.63) rotate(-90) scale(1.000,1)" font-size="11.7" font-style="normal" font-weight="normal">(</text>
<text transform="translate(376.83,595.20) rotate(-90) scale(1.000,1)" font-size="11.7" font-style="italic" font-weight="normal">σ</text>
<text transform="translate(372.49,587.30) rotate(-90) scale(1.000,1)" font-size="9.0" font-style="normal" font-weight="normal">2</text>
<text transform="translate(380.35,587.50) rotate(-90) scale(1.000,1)" font-size="9.0" font-style="normal" font-weight="normal">0</text>
<text transform="translate(377.28,580.93) rotate(-90) scale(1.000,1)" font-size="11.7" font-style="normal" font-weight="normal">/</text>
<text transform="translate(376.72,577.49) rotate(-90) scale(1.000,1)" font-size="11.7" font-style="italic" font-weight="normal">E</text>
<text transform="translate(376.53,569.37) rotate(-90) scale(1.000,1)" font-size="11.7" font-style="normal" font-weight="normal">)</text>
<text transform="translate(539.48,661.57) scale(1.000,1)" font-size="12.0" font-style="italic" font-weight="normal">a</text>
<text transform="translate(547.18,662.19) scale(1.000,1)" font-size="12.0" font-style="normal" font-weight="normal">/</text>
<text transform="translate(551.10,661.61) scale(1.000,1)" font-size="11.8" font-style="italic" font-weight="normal">L</text>
<text transform="translate(347.16,17.21) scale(1.0000,1)" font-size="20.3" font-weight="normal" font-style="italic" fill="#000" >k = 4</text>
<text transform="translate(347.26,358.91) scale(1.0000,1)" font-size="20.3" font-weight="normal" font-style="italic" fill="#000" >k = 1.5</text>
</svg></body></html>
